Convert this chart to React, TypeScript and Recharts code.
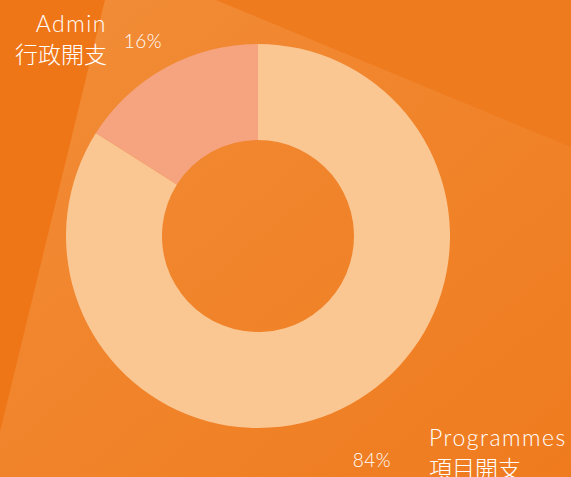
import React from "react";
import { PieChart, Pie, Cell } from "recharts";

const names = ["Programmes", "Admin"];
const namesZh = ["項目開支", "行政開支"];
const values = [84, 16];
const colors = ["#FAC692", "#F5A47F"];

const data = names.map((n, i) => ({ name: n, zh: namesZh[i], value: values[i] }));

const W = 571;
const H = 477;
const font = "Lato, 'Noto Sans CJK TC', sans-serif";

// where each label sits relative to the pie centre
const pctOffset = [
  { dx: 114, dy: 231 },
  { dx: -115, dy: -188 },
];
const nameOffset = [
  { dx: 171, dy: 210, anchor: "start" },
  { dx: -151, dy: -204, anchor: "end" },
];

const renderLabel = (props: any) => {
  const { cx, cy, percent, index, payload } = props;
  const p = pctOffset[index];
  const n = nameOffset[index];
  return (
    <g>
      <text x={cx + p.dx} y={cy + p.dy} textAnchor="middle" fill="#FFFFFF" fontSize={19} fontWeight={300} letterSpacing={0.5} fontFamily={font}>
        {`${Math.round(percent * 100)}%`}
      </text>
      <text x={cx + n.dx} y={cy + n.dy} textAnchor={n.anchor} fill="#FFFFFF" fontSize={23} fontWeight={300} letterSpacing={1.5} fontFamily={font}>
        {payload.name}
      </text>
      <text x={cx + n.dx} y={cy + n.dy + 31} textAnchor={n.anchor} fill="#FFFFFF" fontSize={23} fontWeight={300} fontFamily={font}>
        {payload.zh}
      </text>
    </g>
  );
};

export default function App() {
  return (
    <div style={{ position: "absolute", left: 0, top: 0, width: W, height: H, overflow: "hidden", background: "#EF7617" }}>
      <svg width={W} height={H} style={{ position: "absolute", left: 0, top: 0 }}>
        <defs>
          <linearGradient id="wedge" x1="0" y1="0" x2="1" y2="1">
            <stop offset="0%" stopColor="#F28D38" />
            <stop offset="100%" stopColor="#EF7B1E" />
          </linearGradient>
        </defs>
        <rect x={0} y={0} width={W} height={H} fill="#EF7617" />
        <polygon points="216,0 571,0 571,147" fill="#EF7B1F" />
        <polygon points="105,0 216,0 571,147 571,477 0,477 0,432" fill="url(#wedge)" />
      </svg>
      <div style={{ position: "absolute", left: 0, top: 0 }}>
        <PieChart width={W} height={H} margin={{ top: 0, right: 0, bottom: 0, left: 0 }}>
          <Pie
            data={data}
            dataKey="value"
            cx={258}
            cy={236}
            innerRadius={96}
            outerRadius={192}
            startAngle={90}
            endAngle={-270}
            stroke="none"
            label={renderLabel}
            labelLine={false}
            isAnimationActive={false}
          >
            {data.map((d, i) => (
              <Cell key={d.name} fill={colors[i]} />
            ))}
          </Pie>
        </PieChart>
      </div>
    </div>
  );
}
